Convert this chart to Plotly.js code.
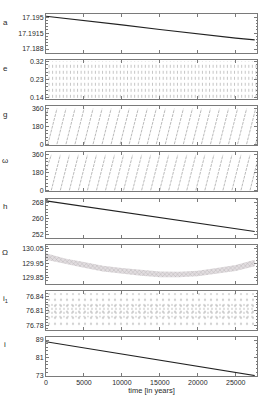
<!DOCTYPE html>
<html><head><meta charset="utf-8">
<script src="https://cdn.plot.ly/plotly-3.0.1.min.js"></script>
<style>html,body{margin:0;padding:0;background:#fff}#chart{width:273px;height:407px}</style>
</head><body><div id="chart"></div>
<script>
// ---- data ----
var tMax = 27800;
// a (semi-major axis): roughly linear decline
var aTime = [0, 5000, 10000, 15000, 20000, 25000, 27500];
var aVal  = [17.1952, 17.1943, 17.1933, 17.1923, 17.1913, 17.1904, 17.1900];
// e: fast oscillation between extremes (times of each oscillation column)
var eCols = [400, 870, 1340, 1810, 2280, 2750, 3220, 3690, 4160, 4630, 5100, 5570, 6040, 6510, 6980, 7450, 7920, 8390, 8860, 9330, 9800, 10270, 10740, 11210, 11680, 12150, 12620, 13090, 13560, 14030, 14500, 14970, 15440, 15910, 16380, 16850, 17320, 17790, 18260, 18730, 19200, 19670, 20140, 20610, 21080, 21550, 22020, 22490, 22960, 23430, 23900, 24370, 24840, 25310, 25780, 26250, 26720, 27190, 27660];
var eMin = 0.14, eMax = 0.32;
// g: circulating angle, times where it wraps 360 -> 0
var gWraps = [250, 1440, 2630, 3820, 5010, 6200, 7390, 8580, 9770, 10960, 12150, 13340, 14530, 15720, 16910, 18100, 19290, 20480, 21670, 22860, 24050, 25240, 26430, 27620];
var gStart = 284, gEnd = 54;
// omega: circulating angle, wrap times
var wWraps = [700, 1890, 3080, 4270, 5460, 6650, 7840, 9030, 10220, 11410, 12600, 13790, 14980, 16170, 17360, 18550, 19740, 20930, 22120, 23310, 24500, 25690, 26880];
var wStart = 200, wEnd = 280;
// h: linear decline
var hTime = [0, 5000, 10000, 15000, 20000, 25000, 27500];
var hVal  = [269.0, 266.2, 263.3, 260.5, 257.7, 254.8, 253.4];
// Omega: band (lower / upper envelope)
var OTime  = [0, 2500, 5000, 7500, 10000, 12500, 15000, 17500, 20000, 22500, 25000, 27500];
var OLow   = [129.975, 129.945, 129.92, 129.895, 129.878, 129.865, 129.855, 129.855, 129.862, 129.878, 129.898, 129.930];
var OHigh  = [130.020, 129.985, 129.96, 129.935, 129.918, 129.905, 129.895, 129.893, 129.900, 129.918, 129.940, 129.975];
// i1: scatter band (outer sparse, inner dense)
var iTime  = [0, 5000, 10000, 15000, 20000, 25000, 27500];
var i1Lo   = [76.776, 76.776, 76.775, 76.776, 76.776, 76.775, 76.776];
var i1Hi   = [76.846, 76.846, 76.847, 76.846, 76.846, 76.847, 76.846];
var i1InLo = [76.796, 76.797, 76.796, 76.797, 76.796, 76.797, 76.796];
var i1InHi = [76.825, 76.825, 76.826, 76.825, 76.826, 76.825, 76.825];
// i: linear decline
var incTime = [0, 5000, 10000, 15000, 20000, 25000, 27500];
var incVal  = [88.2, 85.4, 82.6, 79.9, 77.1, 74.3, 73.0];

var labels = ['a', 'e', 'g', '\u03c9', 'h', '\u03a9', 'i<sub>1</sub>', 'i'];
var xTicks = [0, 5000, 10000, 15000, 20000, 25000];
var xTickText = ['0', '5000', '10000', '15000', '20000', '25000'];

(function(){
function segs(wraps, start, end) {
  var x = [0, wraps[0], null], y = [start, 360, null];
  for (var k = 0; k < wraps.length - 1; k++) { x.push(wraps[k], wraps[k+1], null); y.push(0, 360, null); }
  x.push(wraps[wraps.length-1], tMax); y.push(0, end);
  return {x: x, y: y};
}
var ex = [], ey = [];
eCols.forEach(function(t){ ex.push(t, t, null); ey.push(eMin, eMax, null); });
var gS = segs(gWraps, gStart, gEnd), wS = segs(wWraps, wStart, wEnd);

var lineCol = '#222';
var clear = {width:0, color:'rgba(0,0,0,0)'};
var traces = [
  {x: aTime, y: aVal, xaxis:'x', yaxis:'y', mode:'lines', line:{color:lineCol, width:1.1}},
  {x: ex, y: ey, xaxis:'x2', yaxis:'y2', mode:'lines', line:{color:'#b8b8b8', width:0.8, dash:'dot'}},
  {x: gS.x, y: gS.y, xaxis:'x3', yaxis:'y3', mode:'lines', line:{color:'#8c8c8c', width:0.6, dash:'3px,1px'}},
  {x: wS.x, y: wS.y, xaxis:'x4', yaxis:'y4', mode:'lines', line:{color:'#8c8c8c', width:0.6, dash:'3px,1px'}},
  {x: hTime, y: hVal, xaxis:'x5', yaxis:'y5', mode:'lines', line:{color:lineCol, width:1.1}},
  {x: OTime, y: OLow, xaxis:'x6', yaxis:'y6', mode:'lines', line:clear},
  {x: OTime, y: OHigh, xaxis:'x6', yaxis:'y6', mode:'lines', line:clear, fill:'tonexty',
   fillcolor:'rgba(170,158,165,0.35)', fillpattern:{shape:'x', fgcolor:'#7e7e7e', size:3, solidity:0.25, fillmode:'overlay'}},
  {x: iTime, y: i1Lo, xaxis:'x7', yaxis:'y7', mode:'lines', line:clear},
  {x: iTime, y: i1Hi, xaxis:'x7', yaxis:'y7', mode:'lines', line:clear, fill:'tonexty',
   fillpattern:{shape:'.', fgcolor:'#d2d2d2', size:6, solidity:0.12}},
  {x: iTime, y: i1InLo, xaxis:'x7', yaxis:'y7', mode:'lines', line:clear},
  {x: iTime, y: i1InHi, xaxis:'x7', yaxis:'y7', mode:'lines', line:clear, fill:'tonexty',
   fillpattern:{shape:'.', fgcolor:'#bdbdbd', size:4, solidity:0.15}},
  {x: incTime, y: incVal, xaxis:'x8', yaxis:'y8', mode:'lines', line:{color:lineCol, width:1.1}}
];

var yConf = [
  {range:[17.1871, 17.1957], vals:[17.188, 17.1915, 17.195], txt:['17.188','17.1915','17.195'], minor:0.0007, m0:17.188},
  {range:[0.133, 0.326], vals:[0.14, 0.23, 0.32], txt:['0.14','0.23','0.32'], minor:0.018, m0:0.14},
  {range:[-12, 385], vals:[0, 180, 360], txt:['0','180','360'], minor:36, m0:0},
  {range:[-12, 385], vals:[0, 180, 360], txt:['0','180','360'], minor:36, m0:0},
  {range:[250.3, 270.2], vals:[252, 260, 268], txt:['252','260','268'], minor:1.6, m0:252},
  {range:[129.81, 130.08], vals:[129.85, 129.95, 130.05], txt:['129.85','129.95','130.05'], minor:0.02, m0:129.85},
  {range:[76.771, 76.851], vals:[76.78, 76.81, 76.84], txt:['76.78','76.81','76.84'], minor:0.006, m0:76.78},
  {range:[72.8, 90.4], vals:[73, 81, 89], txt:['73','81','89'], minor:1.6, m0:73}
];

var H = 362, pH = 39.1, step = 46.13;
var frame = '#7a7a7a';
var txtCol = '#2b2b2b';
var layout = {
  width: 273, height: 407, showlegend: false,
  margin: {l:46, r:16, t:14, b:31, pad:0},
  paper_bgcolor: '#fff', plot_bgcolor: '#fff',
  font: {family: 'Liberation Sans, Arial, sans-serif', size: 7, color: txtCol},
  annotations: []
};
for (var k = 0; k < 8; k++) {
  var dTop = 1 - (k*step)/H, dBot = dTop - pH/H;
  var xs = k === 0 ? 'xaxis' : 'xaxis' + (k+1);
  var ys = k === 0 ? 'yaxis' : 'yaxis' + (k+1);
  var yc = yConf[k];
  layout[xs] = {
    domain: [0, 1], anchor: k === 0 ? 'y' : 'y' + (k+1), range: [0, tMax],
    tickmode: 'array', tickvals: xTicks, ticktext: xTickText, ticks: 'inside', ticklen: 3, tickcolor: frame,
    showticklabels: k === 7, mirror: 'allticks', showline: true, linecolor: frame, linewidth: 1,
    showgrid: false, zeroline: false, tickfont: {color: txtCol, size: 7}
  };
  if (k === 7) layout[xs].title = {text: 'time [in years]', standoff: 2, font: {size: 7.5, color: txtCol}};
  layout[ys] = {
    domain: [Math.max(0, dBot), Math.min(1, dTop)], anchor: k === 0 ? 'x' : 'x' + (k+1), range: yc.range,
    tickmode: 'array', tickvals: yc.vals, ticktext: yc.txt, ticks: 'inside', ticklen: 3, tickcolor: frame,
    minor: {tickmode: 'linear', tick0: yc.m0, dtick: yc.minor, ticks: 'inside', ticklen: 1.5, tickcolor: frame, showgrid: false},
    mirror: 'allticks', showline: true, linecolor: frame, linewidth: 1,
    showgrid: false, zeroline: false, tickfont: {color: txtCol, size: 7}
  };
  layout.annotations.push({
    text: labels[k], xref: 'paper', yref: 'paper', x: -41/211, y: (H - (k*step + 8))/H,
    xanchor: 'center', yanchor: 'middle', showarrow: false, font: {size: 8, color: txtCol}
  });
}
Plotly.newPlot('chart', traces, layout, {staticPlot: true, displayModeBar: false});
})();
</script></body></html>
